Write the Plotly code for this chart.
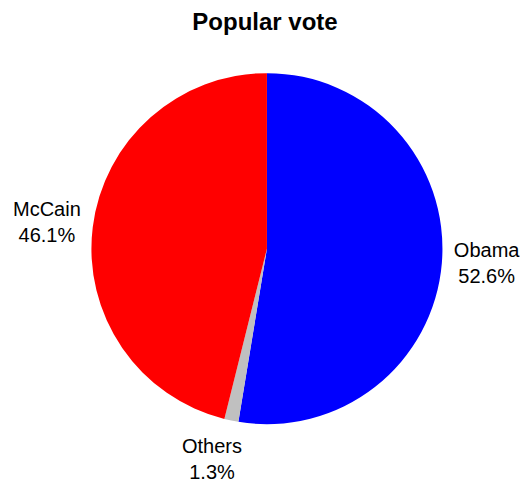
import plotly.graph_objects as go

# 2008 US presidential election, share of the popular vote
candidates = ["Obama", "Others", "McCain"]
vote_share = [52.6, 1.3, 46.1]
slice_colors = ["#0000ff", "#c0c0c0", "#ff0000"]

FONT = "Liberation Sans, Arial, sans-serif"
W, H = 525, 484

# Obama keeps the pie's own outside label; the other two are set as annotations
annotated = {"Others": (214, 459), "McCain": (47.5, 222)}

inline_text = [
    "" if name in annotated else f"{name}<br>{val:.1f}%"
    for name, val in zip(candidates, vote_share)
]

fig = go.Figure(
    go.Pie(
        labels=candidates,
        values=vote_share,
        text=inline_text,
        sort=False,
        direction="clockwise",
        rotation=0,
        marker=dict(colors=slice_colors, line=dict(width=0)),
        textposition="outside",
        texttemplate="%{text}",
        textfont=dict(family=FONT, size=20, color="#000000"),
        showlegend=False,
        hoverinfo="label+percent",
        domain=dict(x=[92.3 / W, 446.7 / W], y=[(H - 426) / H, (H - 71.3) / H]),
    )
)

for name, (px, py) in annotated.items():
    i = candidates.index(name)
    fig.add_annotation(
        text=f"{candidates[i]}<br>{vote_share[i]:.1f}%",
        xref="paper", yref="paper",
        x=px / W, y=1 - py / H,
        xanchor="center", yanchor="middle", align="center",
        showarrow=False,
        font=dict(family=FONT, size=20, color="#000000"),
    )

fig.update_layout(
    width=W,
    height=H,
    margin=dict(l=0, r=0, t=0, b=0),
    paper_bgcolor="white",
    plot_bgcolor="white",
    title=dict(
        text="<b>Popular vote</b>",
        x=265 / W,
        xanchor="center",
        y=1 - 22 / H,
        yanchor="middle",
        font=dict(family=FONT, size=24, color="#000000"),
    ),
)

fig.write_html("out.html")
